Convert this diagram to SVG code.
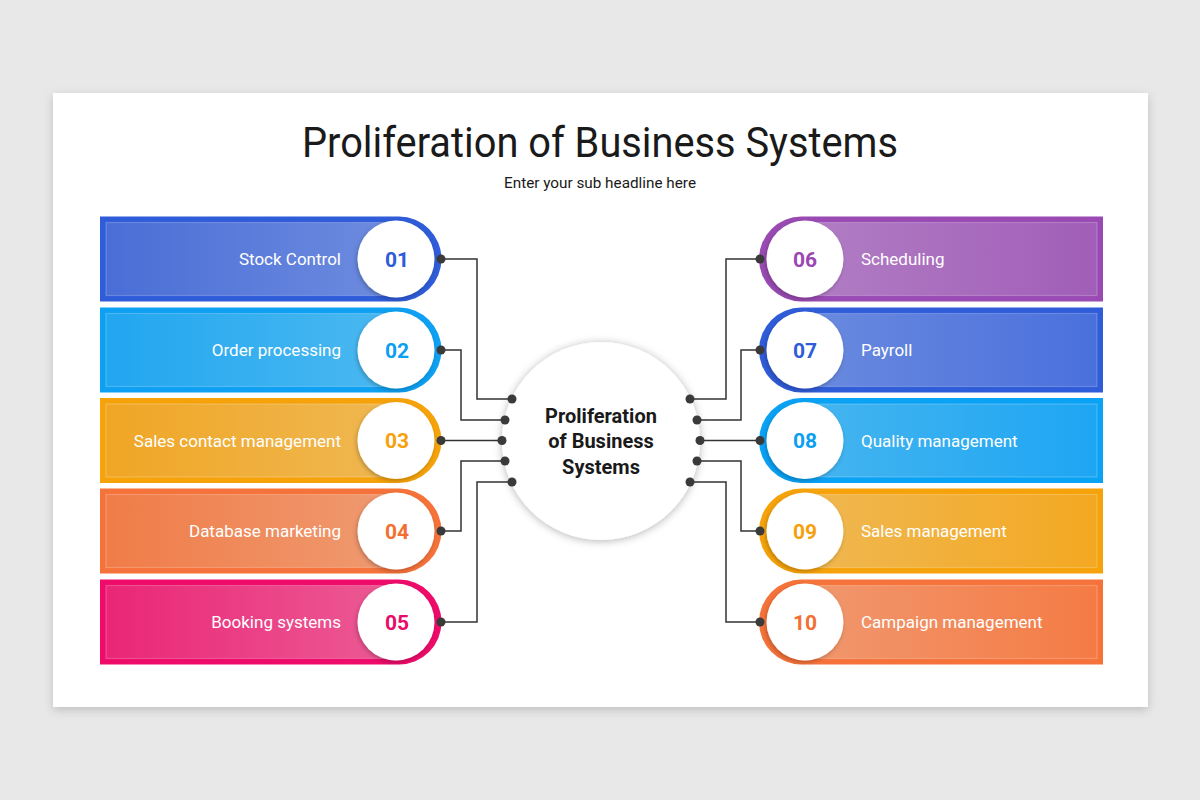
<svg xmlns="http://www.w3.org/2000/svg" width="1200" height="800" viewBox="0 0 1200 800">
<defs>
<style>
.lbl{font-family:Roboto,"Liberation Sans",sans-serif;font-size:17px;fill:#ffffff}
.num{font-family:Roboto,"Liberation Sans",sans-serif;font-size:21px;font-weight:700;text-anchor:middle}
.inner{stroke:#ffffff;stroke-opacity:0.22;stroke-width:1.2}
.wc{fill:#ffffff;filter:url(#cs)}
.conn{fill:none;stroke:#333333;stroke-width:1.5}
.dot{fill:#3a3a3a}
</style>
<filter id="card" x="-5%" y="-5%" width="110%" height="112%"><feDropShadow dx="0" dy="3" stdDeviation="5" flood-color="#000" flood-opacity="0.18"/></filter>
<filter id="cs" x="-30%" y="-30%" width="160%" height="160%"><feDropShadow dx="-1" dy="2" stdDeviation="2" flood-color="#000" flood-opacity="0.25"/></filter>
<filter id="bs" x="-30%" y="-30%" width="160%" height="160%"><feDropShadow dx="0" dy="1" stdDeviation="4" flood-color="#000" flood-opacity="0.3"/></filter>
<linearGradient id="g1"><stop offset="0" stop-color="#4a6ed6"/><stop offset="1" stop-color="#6e8cdf"/></linearGradient>
<linearGradient id="g2"><stop offset="0" stop-color="#22a6f0"/><stop offset="1" stop-color="#4cb9f0"/></linearGradient>
<linearGradient id="g3"><stop offset="0" stop-color="#f0a625"/><stop offset="1" stop-color="#efb853"/></linearGradient>
<linearGradient id="g4"><stop offset="0" stop-color="#f07c48"/><stop offset="1" stop-color="#ef9b72"/></linearGradient>
<linearGradient id="g5"><stop offset="0" stop-color="#ea2676"/><stop offset="1" stop-color="#ec5c96"/></linearGradient>
<linearGradient id="g6"><stop offset="0" stop-color="#b17ec4"/><stop offset="1" stop-color="#a15eb8"/></linearGradient>
<linearGradient id="g7"><stop offset="0" stop-color="#6b8bdf"/><stop offset="1" stop-color="#4a70dc"/></linearGradient>
<linearGradient id="g8"><stop offset="0" stop-color="#46b5ef"/><stop offset="1" stop-color="#1ea6f3"/></linearGradient>
<linearGradient id="g9"><stop offset="0" stop-color="#efb852"/><stop offset="1" stop-color="#f4a822"/></linearGradient>
<linearGradient id="g10"><stop offset="0" stop-color="#f0986f"/><stop offset="1" stop-color="#f57b45"/></linearGradient>
</defs>
<rect width="1200" height="800" fill="#e9e8e9"/>
<rect x="53" y="93" width="1095" height="614" fill="#ffffff" filter="url(#card)"/>
<text x="600" y="157" text-anchor="middle" font-family="Roboto,'Liberation Sans',sans-serif" font-size="42" fill="#1a1a1a" textLength="596" lengthAdjust="spacingAndGlyphs">Proliferation of Business Systems</text>
<text x="600" y="188" text-anchor="middle" font-family="Roboto,'Liberation Sans',sans-serif" font-size="15" fill="#1a1a1a" textLength="192" lengthAdjust="spacingAndGlyphs">Enter your sub headline here</text>

<g id="connectors">
<path class="conn" d="M441,259 H477 V399 H512"/>
<path class="conn" d="M441,350 H461 V420 H505"/>
<path class="conn" d="M441,440.5 H502"/>
<path class="conn" d="M441,531 H461 V461 H505"/>
<path class="conn" d="M441,622 H477 V482 H512"/>
<path class="conn" d="M760,259 H726 V399 H690"/>
<path class="conn" d="M760,350 H741 V420 H697"/>
<path class="conn" d="M760,440.5 H700"/>
<path class="conn" d="M760,531 H741 V461 H697"/>
<path class="conn" d="M760,622 H726 V482 H690"/>
</g>

<g id="center">
<circle cx="601" cy="441" r="99" fill="#ffffff" filter="url(#bs)"/>
<g font-family="Roboto,'Liberation Sans',sans-serif" font-size="20" font-weight="700" fill="#1a1a1a" text-anchor="middle">
<text x="601" y="423">Proliferation</text>
<text x="601" y="448">of Business</text>
<text x="601" y="474">Systems</text>
</g>
<g class="dot">
<circle cx="512" cy="399" r="4.5"/><circle cx="505" cy="420" r="4.5"/><circle cx="502" cy="440.5" r="4.5"/><circle cx="505" cy="461" r="4.5"/><circle cx="512" cy="482" r="4.5"/>
<circle cx="690" cy="399" r="4.5"/><circle cx="697" cy="420" r="4.5"/><circle cx="700" cy="440.5" r="4.5"/><circle cx="697" cy="461" r="4.5"/><circle cx="690" cy="482" r="4.5"/>
</g>
</g>

<g id="node01">
<path d="M100,216.5 H399 A42.5,42.5 0 0 1 399,301.5 H100 Z" fill="#2f5cd8"/>
<rect class="inner" x="106" y="222.5" width="296" height="73" fill="url(#g1)"/>
<circle class="wc" cx="396" cy="259" r="38.5"/>
<text class="num" x="397" y="266.5" fill="#2f5cd8">01</text>
<text class="lbl" x="341" y="265" text-anchor="end">Stock Control</text>
<circle class="dot" cx="441" cy="259" r="4.5"/>
</g>
<g id="node02">
<path d="M100,307.5 H399 A42.5,42.5 0 0 1 399,392.5 H100 Z" fill="#0ea0f2"/>
<rect class="inner" x="106" y="313.5" width="296" height="73" fill="url(#g2)"/>
<circle class="wc" cx="396" cy="350" r="38.5"/>
<text class="num" x="397" y="357.5" fill="#0a9ff0">02</text>
<text class="lbl" x="341" y="356" text-anchor="end">Order processing</text>
<circle class="dot" cx="441" cy="350" r="4.5"/>
</g>
<g id="node03">
<path d="M100,398 H399 A42.5,42.5 0 0 1 399,483 H100 Z" fill="#f6a30b"/>
<rect class="inner" x="106" y="404" width="296" height="73" fill="url(#g3)"/>
<circle class="wc" cx="396" cy="440.5" r="38.5"/>
<text class="num" x="397" y="448" fill="#f6a10c">03</text>
<text class="lbl" x="341" y="446.5" text-anchor="end">Sales contact management</text>
<circle class="dot" cx="441" cy="440.5" r="4.5"/>
</g>
<g id="node04">
<path d="M100,488.5 H399 A42.5,42.5 0 0 1 399,573.5 H100 Z" fill="#f5733a"/>
<rect class="inner" x="106" y="494.5" width="296" height="73" fill="url(#g4)"/>
<circle class="wc" cx="396" cy="531" r="38.5"/>
<text class="num" x="397" y="538.5" fill="#f36f32">04</text>
<text class="lbl" x="341" y="537" text-anchor="end">Database marketing</text>
<circle class="dot" cx="441" cy="531" r="4.5"/>
</g>
<g id="node05">
<path d="M100,579.5 H399 A42.5,42.5 0 0 1 399,664.5 H100 Z" fill="#ee0b6a"/>
<rect class="inner" x="106" y="585.5" width="296" height="73" fill="url(#g5)"/>
<circle class="wc" cx="396" cy="622" r="38.5"/>
<text class="num" x="397" y="629.5" fill="#e80c68">05</text>
<text class="lbl" x="341" y="628" text-anchor="end">Booking systems</text>
<circle class="dot" cx="441" cy="622" r="4.5"/>
</g>

<g id="node06">
<path d="M1103,216.5 H801.5 A42.5,42.5 0 0 0 801.5,301.5 H1103 Z" fill="#9a4bb3"/>
<rect class="inner" x="799" y="222.5" width="298" height="73" fill="url(#g6)"/>
<circle class="wc" cx="805" cy="259" r="38.5"/>
<text class="num" x="805" y="266.5" fill="#9a47b2">06</text>
<text class="lbl" x="861" y="265">Scheduling</text>
<circle class="dot" cx="760" cy="259" r="4.5"/>
</g>
<g id="node07">
<path d="M1103,307.5 H801.5 A42.5,42.5 0 0 0 801.5,392.5 H1103 Z" fill="#2f5cd8"/>
<rect class="inner" x="799" y="313.5" width="298" height="73" fill="url(#g7)"/>
<circle class="wc" cx="805" cy="350" r="38.5"/>
<text class="num" x="805" y="357.5" fill="#2f5cd8">07</text>
<text class="lbl" x="861" y="356">Payroll</text>
<circle class="dot" cx="760" cy="350" r="4.5"/>
</g>
<g id="node08">
<path d="M1103,398 H801.5 A42.5,42.5 0 0 0 801.5,483 H1103 Z" fill="#0aa2f5"/>
<rect class="inner" x="799" y="404" width="298" height="73" fill="url(#g8)"/>
<circle class="wc" cx="805" cy="440.5" r="38.5"/>
<text class="num" x="805" y="448" fill="#0a9ff0">08</text>
<text class="lbl" x="861" y="446.5">Quality management</text>
<circle class="dot" cx="760" cy="440.5" r="4.5"/>
</g>
<g id="node09">
<path d="M1103,488.5 H801.5 A42.5,42.5 0 0 0 801.5,573.5 H1103 Z" fill="#f6a30b"/>
<rect class="inner" x="799" y="494.5" width="298" height="73" fill="url(#g9)"/>
<circle class="wc" cx="805" cy="531" r="38.5"/>
<text class="num" x="805" y="538.5" fill="#f6a10c">09</text>
<text class="lbl" x="861" y="537">Sales management</text>
<circle class="dot" cx="760" cy="531" r="4.5"/>
</g>
<g id="node10">
<path d="M1103,579.5 H801.5 A42.5,42.5 0 0 0 801.5,664.5 H1103 Z" fill="#f5733a"/>
<rect class="inner" x="799" y="585.5" width="298" height="73" fill="url(#g10)"/>
<circle class="wc" cx="805" cy="622" r="38.5"/>
<text class="num" x="805" y="629.5" fill="#f36f32">10</text>
<text class="lbl" x="861" y="628">Campaign management</text>
<circle class="dot" cx="760" cy="622" r="4.5"/>
</g>
</svg>
